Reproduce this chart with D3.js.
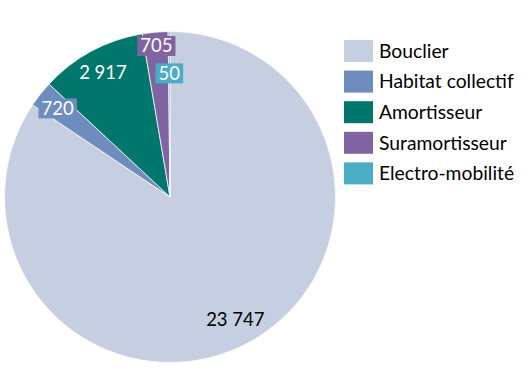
<!DOCTYPE html>
<html><head><meta charset="utf-8">
<script src="https://cdn.jsdelivr.net/npm/d3@7"></script>
<style>
html,body{margin:0;padding:0;background:#fff;}
svg{display:block;font-family:Lato,"Open Sans",sans-serif;}
</style></head>
<body><svg id="chart" width="528" height="375"></svg>
<script>
const categories = ["Bouclier","Habitat collectif","Amortisseur","Suramortisseur","Electro-mobilité"];
const values = [23747, 720, 2917, 705, 50];
const valueLabels = ["23 747","720","2 917","705","50"];
const colors = ["#C5CFE1","#6E8DBE","#00766C","#8064A2","#4BACC6"];
const labelRadiusFactor = [0.838, 0.866, 0.854, 0.919, 0.75];
const labelBoxed = [false, true, false, true, true];
const labelColor = ["#000","#fff","#fff","#fff","#fff"];

const svg = d3.select("#chart");
const cx = 170, cy = 197, R = 165.5;
const g = svg.append("g").attr("transform", `translate(${cx},${cy})`);

const data = categories.map((c,i)=>({cat:c, value:values[i], label:valueLabels[i], i}));
const pie = d3.pie().value(d=>d.value).sort(null);
const arcs = pie(data);
const arc = d3.arc().innerRadius(0).outerRadius(R);

g.selectAll("path.slice").data(arcs).join("path")
  .attr("class","slice")
  .attr("d", arc)
  .attr("fill", d=>colors[d.data.i])
  .attr("stroke","#fff").attr("stroke-width",0.75);

const fontSize = 18.5;
const lab = g.selectAll("g.lab").data(arcs).join("g").attr("class","lab")
  .attr("transform", d=>{
    const a = (d.startAngle+d.endAngle)/2;
    const r = R*labelRadiusFactor[d.data.i];
    return `translate(${r*Math.sin(a)},${-r*Math.cos(a)})`;
  });
lab.each(function(d){
  const sel = d3.select(this);
  const t = sel.append("text")
    .attr("text-anchor","middle")
    .attr("dy","0.36em")
    .attr("font-size",fontSize)
    .attr("fill",labelColor[d.data.i])
    .text(d.data.label);
  if(labelBoxed[d.data.i]){
    const bb = t.node().getBBox();
    const w = bb.width + 6, h = 20;
    sel.insert("rect","text")
      .attr("x",-w/2).attr("y",-h/2+0.5).attr("width",w).attr("height",h)
      .attr("fill",colors[d.data.i]);
  }
});

// legend
const legend = svg.append("g").attr("transform","translate(344,40)");
const rowH = 30.6;
const items = legend.selectAll("g").data(categories).join("g")
  .attr("transform",(d,i)=>`translate(0,${i*rowH})`);
items.append("rect").attr("width",29).attr("height",22).attr("fill",(d,i)=>colors[i]);
items.append("text").attr("x",35).attr("y",17.8).attr("font-size",19.3).attr("fill","#000").text(d=>d);
</script></body></html>
